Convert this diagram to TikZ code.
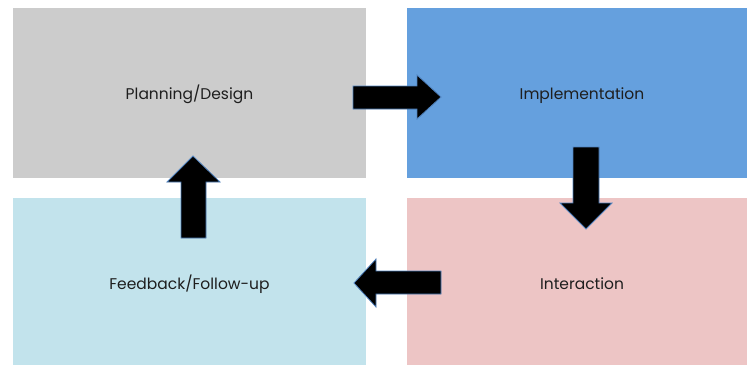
\documentclass[tikz,border=0pt]{standalone}
\usepackage{fontspec}
\setmainfont{Poppins}
\definecolor{cgray}{RGB}{204,204,204}
\definecolor{cblue}{RGB}{101,160,222}
\definecolor{clblue}{RGB}{194,227,236}
\definecolor{cpink}{RGB}{237,197,197}
\definecolor{cedge}{RGB}{79,129,189}
\definecolor{ctext}{RGB}{30,30,30}
\begin{document}
\begin{tikzpicture}[x=1pt,y=-1pt,
  panel/.style={draw=none,inner sep=0pt,anchor=base,text=ctext,font=\fontsize{15.5}{18}\selectfont},
  blockarrow/.style={fill=black,draw=cedge,line width=0.8pt,line join=miter}]
\useasboundingbox (0,0) rectangle (747,365);
\fill[cgray] (13,8) rectangle (366,178);
\fill[cblue] (407,8) rectangle (747,178);
\fill[clblue] (13,198) rectangle (366,365);
\fill[cpink] (407,198) rectangle (747,365);
\node[panel] (plan) at (189.5,99) {Planning/Design};
\node[panel] (impl) at (582,99) {Implementation};
\node[panel] (inter) at (582,289) {Interaction};
\node[panel] (feed) at (189.5,289) {Feedback/Follow-up};
% right arrow
\draw[blockarrow] (353,86) -- (417,86) -- (417,75) -- (441,97) -- (417,119) -- (417,109) -- (353,109) -- cycle;
% down arrow
\draw[blockarrow] (573,147) -- (599,147) -- (599,203) -- (612,203) -- (586,229) -- (560,203) -- (573,203) -- cycle;
% left arrow
\draw[blockarrow] (441,271) -- (376,271) -- (376,259) -- (354,283) -- (376,307) -- (376,294) -- (441,294) -- cycle;
% up arrow
\draw[blockarrow] (181,238) -- (206,238) -- (206,182) -- (220,182) -- (193,156) -- (167,182) -- (181,182) -- cycle;
\end{tikzpicture}
\end{document}
